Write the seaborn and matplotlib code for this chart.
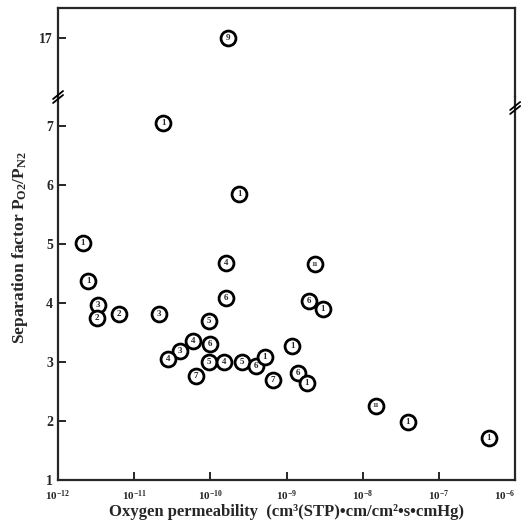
import numpy as np
import pandas as pd
import seaborn as sns
import matplotlib.pyplot as plt
from matplotlib.lines import Line2D

# Data
perm = [1.7e-10, 2.4e-11, 2.4e-10, 2.1e-12, 2.5e-12, 3.3e-12, 3.25e-12, 6.3e-12,
        2.1e-11, 1.6e-10, 1.6e-10, 9.6e-11, 5.9e-11, 1.0e-10, 4.0e-11, 2.8e-11,
        9.6e-11, 1.5e-10, 6.5e-11, 2.6e-10, 4.0e-10, 5.2e-10, 6.6e-10, 2.35e-9,
        1.96e-9, 3.0e-9, 1.18e-9, 1.4e-9, 1.85e-9, 1.5e-8, 3.9e-8, 4.5e-7]
sep = [17.0, 7.05, 5.85, 5.02, 4.37, 3.97, 3.74, 3.82,
       3.81, 4.67, 4.08, 3.69, 3.35, 3.31, 3.19, 3.06,
       3.0, 3.0, 2.77, 3.0, 2.94, 3.08, 2.69, 4.66,
       4.03, 3.9, 3.27, 2.82, 2.65, 2.26, 1.98, 1.72]
label = ['9', '1', '1', '1', '1', '3', '2', '2',
         '3', '4', '6', '5', '4', '6', '3', '4',
         '5', '4', '7', '5', '6', '1', '7', '11',
         '6', '1', '1', '6', '1', '11', '1', '1']

xticks = [1e-12, 1e-11, 1e-10, 1e-9, 1e-8, 1e-7, 1e-6]
xticklabels = [r'10$^{-12}$', r'10$^{-11}$', r'10$^{-10}$', r'10$^{-9}$',
               r'10$^{-8}$', r'10$^{-7}$', r'10$^{-6}$']

df = pd.DataFrame({'perm': perm, 'sep': sep, 'label': label})
df_top = df[df['sep'] > 10]
df_bot = df[df['sep'] <= 10]

sns.set_style('ticks')
plt.rcParams['font.family'] = ['Liberation Serif', 'DejaVu Serif']
plt.rcParams['mathtext.default'] = 'regular'

fig = plt.figure(figsize=(5.23, 5.30), dpi=100)
gs = fig.add_gridspec(2, 1, height_ratios=[89, 383], hspace=0,
                      left=0.111, right=0.985, bottom=0.094, top=0.985)
ax_top = fig.add_subplot(gs[0])
ax = fig.add_subplot(gs[1], sharex=ax_top)

for a, d in [(ax_top, df_top), (ax, df_bot)]:
    sns.scatterplot(data=d, x='perm', y='sep', s=115, color='white',
                    edgecolor='black', linewidth=2.0, ax=a, zorder=3)
    for _, r in d.iterrows():
        a.text(r['perm'], r['sep'], r['label'], ha='center', va='center',
               fontsize=5 if len(r['label']) > 1 else 6.5, fontweight='bold', zorder=4)
    a.set_xscale('log')
    a.set_xlim(1e-12, 1e-6)
    a.set_xlabel('')
    a.set_ylabel('')
    for s in a.spines.values():
        s.set_linewidth(1.6)
    a.tick_params(direction='in', length=6, width=1.4, labelsize=10)

ax_top.set_ylim(16.0, 17.5)
ax_top.set_yticks([17])
ax_top.set_yticklabels(['17'], fontweight='bold')
ax_top.spines['bottom'].set_visible(False)
ax_top.tick_params(axis='x', which='both', bottom=False, labelbottom=False)

ax.set_ylim(1, 7.49)
ax.set_yticks([1, 2, 3, 4, 5, 6, 7])
ax.set_yticklabels(['1', '2', '3', '4', '5', '6', '7'], fontweight='bold')
ax.spines['top'].set_visible(False)
ax.set_xticks(xticks)
ax.set_xticklabels(xticklabels, fontsize=8, fontweight='bold')
ax.get_xticklabels()[-1].set_horizontalalignment('right')
ax.tick_params(axis='x', pad=6)
ax.xaxis.set_minor_locator(plt.NullLocator())

fig.text(0.548, 1 - 512 / 530, 'Oxygen permeability  (cm³(STP)•cm/cm²•s•cmHg)',
         ha='center', va='center', fontsize=12, fontweight='bold')
fig.text(0.038, 1 - 248 / 530, r'Separation factor P$_{O2}$/P$_{N2}$',
         rotation=90, ha='center', va='center', fontsize=12.5, fontweight='bold')

# axis break marks
px, py = 1 / 523, 1 / 530
for xb, yb in [(0.111, 1 - 97 / 530), (0.985, 1 - 108 / 530)]:
    for off in (-2, 2):
        fig.add_artist(Line2D([xb - 5 * px, xb + 5 * px],
                              [yb + (off - 4) * py, yb + (off + 4) * py],
                              transform=fig.transFigure, color='black', lw=1.3))

fig.savefig('out.png', dpi=100)
